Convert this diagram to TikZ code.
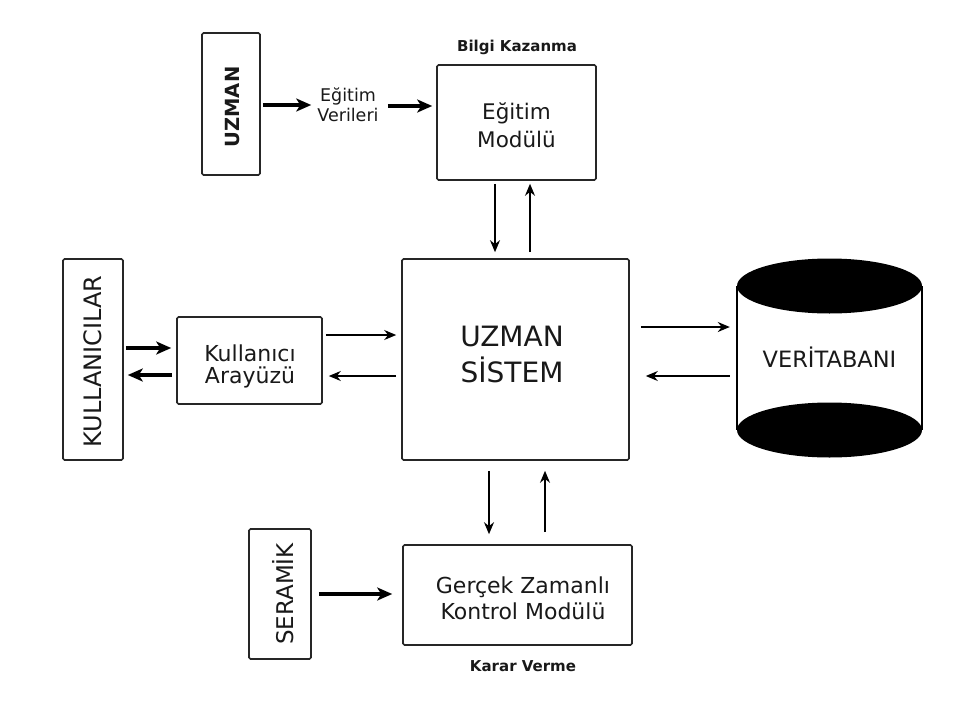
\documentclass[tikz,border=0pt]{standalone}
\usepackage{fontspec}
\setmainfont{DejaVu Sans}
\usetikzlibrary{arrows.meta,calc}
\begin{document}
\begin{tikzpicture}[x=1pt,y=-1pt,
  box/.style={draw=black!85,line width=1.6pt,rounded corners=1.5pt,inner sep=0pt,fill=white},
  lbl/.style={inner sep=0pt,align=center,text=black!90,font=\fontsize{21.5}{28}\selectfont},
  small/.style={inner sep=0pt,align=center,text=black!90,font=\fontsize{17.5}{20}\selectfont},
  smallb/.style={inner sep=0pt,text=black!90,font=\bfseries\fontsize{15}{18}\selectfont},
  sidetext/.style={inner sep=0pt,rotate=90,text=black!90,font=\fontsize{23}{26}\selectfont},
  tarr/.style={-{Stealth[length=12pt,width=10pt]},line width=1.6pt},
  barr/.style={-{Stealth[length=15pt,width=13pt,inset=4pt]},line width=4pt}
]
\useasboundingbox[fill=white] (0,0) rectangle (956,720);

% boxes
\node[box,minimum width=58,minimum height=142] (uzmanbox) at (231,104) {};
\node[sidetext,font=\bfseries\fontsize{19.5}{24}\selectfont] (uzmant) at (232.5,107) {UZMAN};
\node[small] (ev) at (348,105) {Eğitim\\Verileri};
\node[box,minimum width=159,minimum height=115] (egitim) at (516.5,122.5) {};
\node[lbl] (egitimt) at (516.5,125) {Eğitim\\Modülü};
\node[smallb] (bilgi) at (517,47) {Bilgi Kazanma};

\node[box,minimum width=227,minimum height=201] (uzsis) at (515.5,359.5) {};
\node[lbl,font=\fontsize{28}{36}\selectfont] (uzsist) at (512,354) {UZMAN\\SİSTEM};

\node[box,minimum width=60,minimum height=201] (kull) at (93,359.5) {};
\node[sidetext,font=\fontsize{24}{28}\selectfont] (kullt) at (93,361.5) {KULLANICILAR};
\node[box,minimum width=145,minimum height=87] (kui) at (249.5,360.5) {};
\node[lbl,font=\fontsize{22}{22}\selectfont] (kuit) at (250,366) {Kullanıcı\\Arayüzü};

% database cylinder
\fill[white] (737,286) rectangle (922,430);
\draw[line width=1.4pt] (737,286) -- (737,430) (922,286) -- (922,430);
\fill (829.5,430) ellipse [x radius=92.5,y radius=27.5];
\fill (829.5,286) ellipse [x radius=92.5,y radius=27.5];
\node[lbl,font=\fontsize{22.5}{25}\selectfont,minimum width=185,minimum height=199] (db) at (829.5,357.5) {VERİTABANI};

\node[box,minimum width=229,minimum height=100] (gz) at (517.5,595) {};
\node[lbl,font=\fontsize{22}{26}\selectfont] (gzt) at (523,598) {Gerçek Zamanlı\\Kontrol Modülü};
\node[smallb] (karar) at (523,666) {Karar Verme};

\node[box,minimum width=62,minimum height=130] (ser) at (280,594) {};
\node[sidetext] (sert) at (283,594) {SERAMİK};

% arrows
\draw[barr] ($(uzmanbox.east)+(2,1)$) -- ($(ev.west)+(-6,0)$);
\draw[barr] ($(ev.east)+(9,1)$) -- ($(egitim.west)+(-4,-16.5)$);
\draw[tarr] ($(egitim.south)+(-21.5,3)$) -- ($(uzsis.north)+(-20.5,-6)$);
\draw[tarr] ($(uzsis.north)+(14.5,-6)$) -- ($(egitim.south)+(13.5,3)$);

\draw[barr] ($(kull.east)+(2,-11.5)$) -- ($(kui.west)+(-5,-12.5)$);
\draw[barr] ($(kui.west)+(-4,14.5)$) -- ($(kull.east)+(4,15.5)$);
\draw[tarr] ($(kui.east)+(3,-25.5)$) -- ($(uzsis.west)+(-5,-24.5)$);
\draw[tarr] ($(uzsis.west)+(-5,16.5)$) -- ($(kui.east)+(6,15.5)$);

\draw[tarr] ($(uzsis.east)+(11,-32.5)$) -- ($(db.west)+(-7,-30.5)$);
\draw[tarr] ($(db.west)+(-7,18.5)$) -- ($(uzsis.east)+(16,16.5)$);

\draw[tarr] ($(uzsis.south)+(-26.5,10)$) -- ($(gz.north)+(-28.5,-10)$);
\draw[tarr] ($(gz.north)+(27.5,-12)$) -- ($(uzsis.south)+(29.5,10)$);
\draw[barr] ($(ser.east)+(7,0)$) -- ($(gz.west)+(-10,-1)$);
\end{tikzpicture}
\end{document}
